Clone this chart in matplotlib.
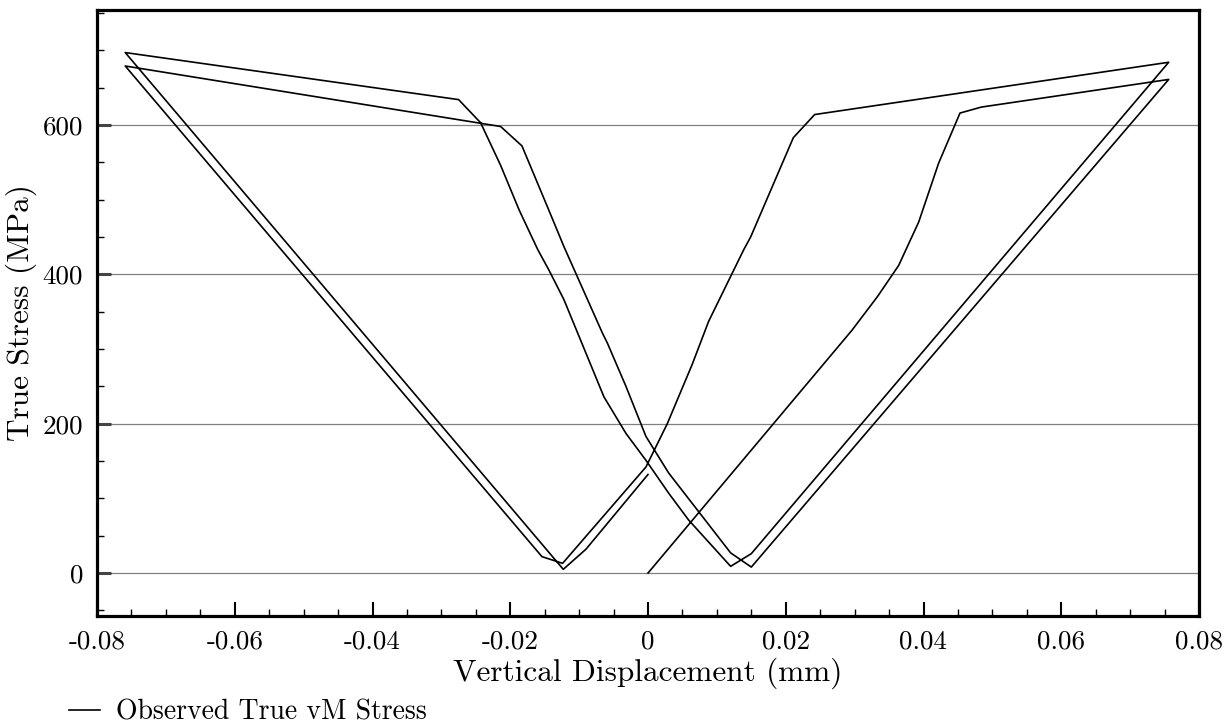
import matplotlib
matplotlib.use('Agg')
from matplotlib import pyplot as plt
from matplotlib.ticker import MultipleLocator, FixedLocator, FixedFormatter
import numpy as np

plt.rcParams['font.family'] = 'serif'
plt.rcParams['font.serif'] = ['cmr10']
plt.rcParams['mathtext.fontset'] = 'cm'
plt.rcParams['axes.unicode_minus'] = False
plt.rcParams['axes.formatter.use_mathtext'] = True

# load path, one branch per reversal: displacement (mm), von Mises stress (MPa)
load_disp = [0.0, 0.0296, 0.0333, 0.0364, 0.0393, 0.0422, 0.0453, 0.0484, 0.0756]
load_stress = [0, 325, 370, 412, 470, 549, 616, 624, 661]

rev1_disp = [0.0150, 0.0120, 0.0030, -0.0003, -0.0032, -0.0059, -0.0066, -0.0122,
             -0.0144, -0.0183, -0.0214, -0.0759]
rev1_stress = [8, 27, 134, 183, 250, 308, 321, 437, 486, 572, 598, 679]

rev2_disp = [-0.0154, -0.0124, -0.0003, 0.0028, 0.0064, 0.0088, 0.0139, 0.0149,
             0.0211, 0.0242, 0.0756]
rev2_stress = [22, 13, 142, 200, 279, 337, 433, 450, 583, 614, 684]

rev3_disp = [0.0150, 0.0120, 0.0059, 0.0030, -0.0003, -0.0032, -0.0064, -0.0122,
             -0.0144, -0.0160, -0.0187, -0.0214, -0.0243, -0.0275, -0.0759]
rev3_stress = [26, 9, 71, 107, 151, 187, 236, 366, 406, 433, 486, 546, 603, 634, 697]

rev4_disp = [-0.0123, -0.0090, 0.0]
rev4_stress = [5, 32, 132]

x_ticks = [-0.08, -0.06, -0.04, -0.02, 0, 0.02, 0.04, 0.06, 0.08]
x_labels = ['-0.08', '-0.06', '-0.04', '-0.02', '0', '0.02', '0.04', '0.06', '0.08']
y_ticks = [0, 200, 400, 600]
y_labels = ['0', '200', '400', '600']

disp = np.concatenate([load_disp, rev1_disp, rev2_disp, rev3_disp, rev4_disp])
stress = np.concatenate([load_stress, rev1_stress, rev2_stress, rev3_stress, rev4_stress])

fig = plt.figure(figsize=(12.32, 7.26), dpi=100)
ax = fig.add_axes([97/1232, 1 - 616/726, 1102/1232, 606/726])

line, = ax.plot(disp, stress, color='black', lw=1.2, zorder=3)

ax.set_xlim(-0.08, 0.08)
ax.set_ylim(-57.5, 754)

ax.xaxis.set_major_locator(FixedLocator(x_ticks))
ax.xaxis.set_major_formatter(FixedFormatter(x_labels))
ax.xaxis.set_minor_locator(MultipleLocator(0.005))
ax.yaxis.set_major_locator(FixedLocator(y_ticks))
ax.yaxis.set_major_formatter(FixedFormatter(y_labels))
ax.yaxis.set_minor_locator(MultipleLocator(50))

ax.yaxis.grid(True, which='major', color='#808080', lw=0.9)
ax.set_axisbelow(True)

for s in ax.spines.values():
    s.set_linewidth(2.3)

ax.tick_params(which='both', direction='in', top=False, right=False, labelsize=19.5)
ax.tick_params(axis='x', which='major', length=10, width=1.5, pad=10)
ax.tick_params(axis='x', which='minor', length=5, width=1)
ax.tick_params(axis='y', which='major', length=10, width=2.2, color='#444444', pad=10)
ax.tick_params(axis='y', which='minor', length=5, width=1)

ax.set_xlabel('Vertical Displacement (mm)', fontsize=22.5)
ax.set_ylabel('True Stress (MPa)', fontsize=22.5)
ax.xaxis.set_label_coords(0.5, -0.068)
ax.yaxis.set_label_coords(-0.054, 0.5)

fig.legend([line], ['Observed True vM Stress'], loc='lower left',
           bbox_to_anchor=(0.056, 0.0), frameon=False, fontsize=20,
           handlelength=1.1, handletextpad=0.6, borderpad=0, borderaxespad=0)

fig.savefig('out.png', dpi=100)
